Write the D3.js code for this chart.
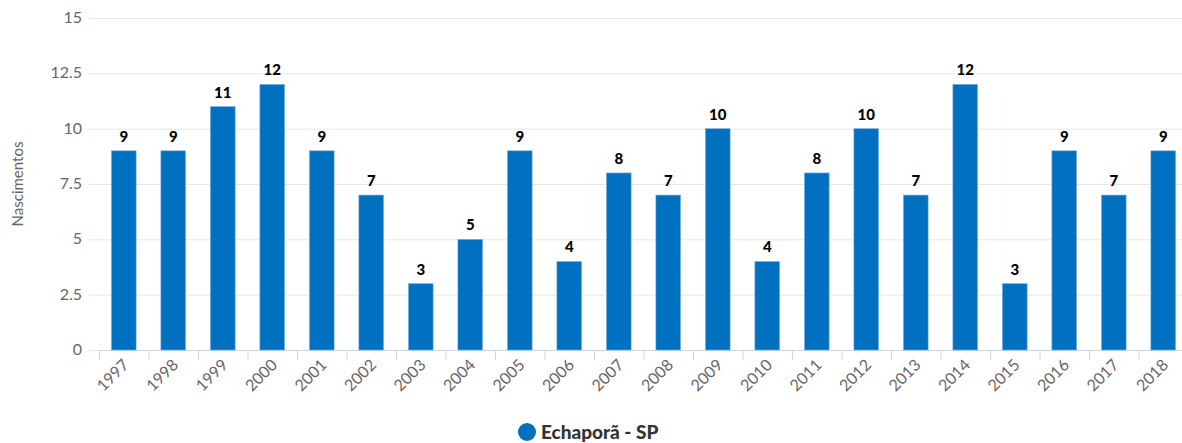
<!DOCTYPE html>
<html>
<head>
<meta charset="utf-8">
<script src="https://cdn.jsdelivr.net/npm/d3@7"></script>
<style>
  body { margin: 0; background: #fff; }
  svg { display: block; font-family: "Lato", "Open Sans", sans-serif; }
  .grid line { stroke: #e6e6e6; }
  .axis text { fill: #666; font-size: 16px; }
  .bar-label { font-weight: 900; font-size: 15px; fill: #000; }
</style>
</head>
<body>
<div id="chart"></div>
<script>
var years = ["1997","1998","1999","2000","2001","2002","2003","2004","2005","2006","2007",
             "2008","2009","2010","2011","2012","2013","2014","2015","2016","2017","2018"];
var births = [9,9,11,12,9,7,3,5,9,4,8,7,10,4,8,10,7,12,3,9,7,9];
var yTicks = [0, 2.5, 5, 7.5, 10, 12.5, 15];
var seriesName = "Echaporã - SP";

var width = 1182, height = 443;
var margin = { top: 18, right: -6, bottom: 93, left: 99 };
var color = "#0070c0";

var svg = d3.select("#chart").append("svg")
  .attr("width", width)
  .attr("height", height);

var x = d3.scaleBand()
  .domain(years)
  .range([margin.left, width - margin.right])
  .paddingInner(0.5)
  .paddingOuter(0.25);

var y = d3.scaleLinear()
  .domain([0, 15])
  .range([height - margin.bottom, margin.top]);

// horizontal grid lines
svg.append("g")
  .attr("class", "grid")
  .selectAll("line")
  .data(yTicks)
  .enter().append("line")
  .attr("x1", 89)
  .attr("x2", width)
  .attr("y1", function(d) { return y(d) + 0.5; })
  .attr("y2", function(d) { return y(d) + 0.5; });

// y axis labels
svg.append("g")
  .attr("class", "axis")
  .selectAll("text")
  .data(yTicks)
  .enter().append("text")
  .attr("x", 82)
  .attr("y", function(d) { return y(d) + 5; })
  .attr("text-anchor", "end")
  .text(function(d) { return d; });

// y axis title
svg.append("text")
  .attr("transform", "translate(23," + ((margin.top + height - margin.bottom) / 2) + ") rotate(-90)")
  .attr("text-anchor", "middle")
  .style("font-size", "15px")
  .style("fill", "#666")
  .text("Nascimentos");

// x axis baseline and ticks
var x0 = margin.left;
var step = x.step();
svg.append("line")
  .attr("x1", x0)
  .attr("x2", width)
  .attr("y1", y(0) + 0.5)
  .attr("y2", y(0) + 0.5)
  .attr("stroke", "#ccd6eb");

svg.append("g")
  .selectAll("line")
  .data(d3.range(years.length + 1))
  .enter().append("line")
  .attr("x1", function(i) { return x0 + i * step + 0.5; })
  .attr("x2", function(i) { return x0 + i * step + 0.5; })
  .attr("y1", y(0))
  .attr("y2", y(0) + 10)
  .attr("stroke", "#ccd6eb");

// x labels
svg.append("g")
  .attr("class", "axis")
  .selectAll("text")
  .data(years)
  .enter().append("text")
  .attr("text-anchor", "end")
  .attr("transform", function(d) {
    return "translate(" + (x(d) + x.bandwidth() / 2 + 6) + "," + (y(0) + 16) + ") rotate(-45)";
  })
  .text(function(d) { return d; });

// bars
svg.append("g")
  .selectAll("rect")
  .data(births)
  .enter().append("rect")
  .attr("x", function(d, i) { return x(years[i]); })
  .attr("y", function(d) { return y(d); })
  .attr("width", x.bandwidth())
  .attr("height", function(d) { return y(0) - y(d); })
  .attr("fill", color)
  .attr("stroke", "#7fb3de")
  .attr("stroke-width", 0.6);

// bar labels
svg.append("g")
  .selectAll("text")
  .data(births)
  .enter().append("text")
  .attr("class", "bar-label")
  .attr("x", function(d, i) { return x(years[i]) + x.bandwidth() / 2; })
  .attr("y", function(d) { return y(d) - 9; })
  .attr("text-anchor", "middle")
  .text(function(d) { return d; });

// legend
var legend = svg.append("g");
legend.append("circle")
  .attr("cx", 527)
  .attr("cy", 432)
  .attr("r", 9)
  .attr("fill", color);
legend.append("text")
  .attr("x", 541)
  .attr("y", 439)
  .style("font-size", "19px")
  .style("font-weight", "900")
  .style("fill", "#333")
  .text(seriesName);
</script>
</body>
</html>
